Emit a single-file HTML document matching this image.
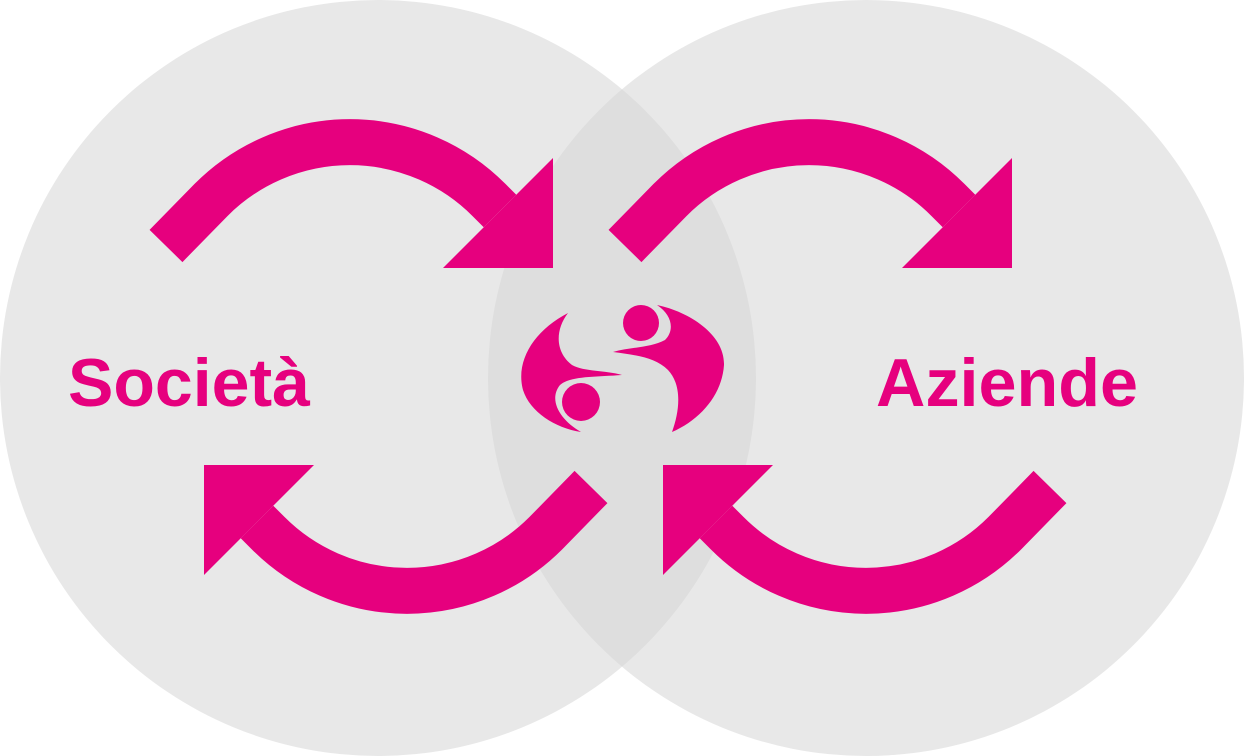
<!DOCTYPE html>
<html><head><meta charset="utf-8"><style>
html,body{margin:0;padding:0;background:#fff;width:1244px;height:756px;overflow:hidden}
svg{display:block}
text{font-family:"Liberation Sans",sans-serif;font-weight:bold;fill:#e6007e}
</style></head><body>
<svg width="1244" height="756" viewBox="0 0 1244 756">
<defs>
<clipPath id="lc"><circle cx="378" cy="378" r="378"/></clipPath>
<g id="arr">
<path d="M166,246 L211,200 A196,196 0 0 1 489,200 L500,211" fill="none" stroke="#e6007e" stroke-width="46"/>
<polygon points="553,158 553,268 443,268" fill="#e6007e"/>
</g>
</defs>
<circle cx="378" cy="378" r="378" fill="#e8e8e8"/>
<circle cx="866" cy="378" r="378" fill="#e8e8e8"/>
<circle cx="866" cy="378" r="378" fill="#dedede" clip-path="url(#lc)"/>
<use href="#arr"/>
<use href="#arr" transform="translate(459,0)"/>
<use href="#arr" transform="rotate(180 378.5 366.5)"/>
<use href="#arr" transform="rotate(180 837.5 366.5) translate(459,0)"/>
<path d="M568,313 C535,330 515,360 523,390 C530,412 555,428 581,432 C560,420 548,400 560,385 C570,376 595,377 622,375 C605,370 585,372 572,365 C555,352 555,330 568,313 Z" fill="#e6007e"/>
<path d="M657,305 C690,312 725,335 724,365 C722,395 700,420 672,432 C680,410 682,385 668,370 C655,357 635,355 613,352 C630,347 650,348 665,340 C675,330 672,315 657,305 Z" fill="#e6007e"/>
<circle cx="581" cy="402" r="19" fill="#e6007e"/>
<circle cx="641" cy="323" r="18" fill="#e6007e"/>
<text x="68" y="406" font-size="68" textLength="242" lengthAdjust="spacingAndGlyphs">Società</text>
<text x="876" y="406" font-size="68" textLength="262" lengthAdjust="spacingAndGlyphs">Aziende</text>
</svg>
</body></html>
